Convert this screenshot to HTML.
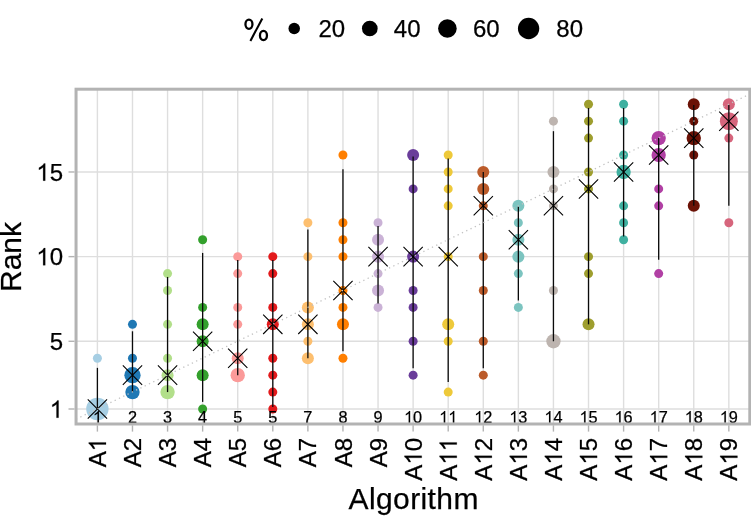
<!DOCTYPE html>
<html><head><meta charset="utf-8"><title>Blob plot</title>
<style>
html,body{margin:0;padding:0;background:#fff;}
body{width:751px;height:516px;overflow:hidden;}
svg{display:block;will-change:transform;}
text{font-family:"Liberation Sans",sans-serif;fill:#000;stroke:#000;stroke-width:0.25px;}
#one{stroke:#000;stroke-width:17;}
</style></head><body>
<svg width="751" height="516" viewBox="0 0 751 516">
<defs><path id="one" d="M763 0H583V1147Q518 1085 412.5 1023T223 930V1104Q374 1175 487 1276T647 1472H763Z"/></defs>
<rect x="0" y="0" width="751" height="516" fill="#fff"/>
<g stroke="#dedede" stroke-width="1.4" fill="none">
<line x1="76.05" x2="749.8" y1="409.00" y2="409.00"/>
<line x1="76.05" x2="749.8" y1="341.28" y2="341.28"/>
<line x1="76.05" x2="749.8" y1="256.63" y2="256.63"/>
<line x1="76.05" x2="749.8" y1="171.98" y2="171.98"/>
<line x1="97.40" x2="97.40" y1="89.2" y2="424.0"/>
<line x1="132.48" x2="132.48" y1="89.2" y2="424.0"/>
<line x1="167.56" x2="167.56" y1="89.2" y2="424.0"/>
<line x1="202.64" x2="202.64" y1="89.2" y2="424.0"/>
<line x1="237.72" x2="237.72" y1="89.2" y2="424.0"/>
<line x1="272.80" x2="272.80" y1="89.2" y2="424.0"/>
<line x1="307.88" x2="307.88" y1="89.2" y2="424.0"/>
<line x1="342.96" x2="342.96" y1="89.2" y2="424.0"/>
<line x1="378.04" x2="378.04" y1="89.2" y2="424.0"/>
<line x1="413.12" x2="413.12" y1="89.2" y2="424.0"/>
<line x1="448.20" x2="448.20" y1="89.2" y2="424.0"/>
<line x1="483.28" x2="483.28" y1="89.2" y2="424.0"/>
<line x1="518.36" x2="518.36" y1="89.2" y2="424.0"/>
<line x1="553.44" x2="553.44" y1="89.2" y2="424.0"/>
<line x1="588.52" x2="588.52" y1="89.2" y2="424.0"/>
<line x1="623.60" x2="623.60" y1="89.2" y2="424.0"/>
<line x1="658.68" x2="658.68" y1="89.2" y2="424.0"/>
<line x1="693.76" x2="693.76" y1="89.2" y2="424.0"/>
<line x1="728.84" x2="728.84" y1="89.2" y2="424.0"/>
</g>
<g fill-opacity="1">
<circle cx="97.40" cy="358.21" r="4.50" fill="#A6CEE3"/>
<circle cx="97.40" cy="409.00" r="11.17" fill="#A6CEE3"/>
<circle cx="132.48" cy="324.35" r="4.50" fill="#1F78B4"/>
<circle cx="132.48" cy="358.21" r="4.50" fill="#1F78B4"/>
<circle cx="132.48" cy="375.14" r="8.15" fill="#1F78B4"/>
<circle cx="132.48" cy="392.07" r="7.17" fill="#1F78B4"/>
<circle cx="167.56" cy="273.56" r="4.50" fill="#B2DF8A"/>
<circle cx="167.56" cy="290.49" r="4.50" fill="#B2DF8A"/>
<circle cx="167.56" cy="324.35" r="4.50" fill="#B2DF8A"/>
<circle cx="167.56" cy="358.21" r="4.50" fill="#B2DF8A"/>
<circle cx="167.56" cy="375.14" r="6.01" fill="#B2DF8A"/>
<circle cx="167.56" cy="392.07" r="7.17" fill="#B2DF8A"/>
<circle cx="202.64" cy="239.70" r="4.50" fill="#33A02C"/>
<circle cx="202.64" cy="307.42" r="4.50" fill="#33A02C"/>
<circle cx="202.64" cy="324.35" r="6.01" fill="#33A02C"/>
<circle cx="202.64" cy="341.28" r="6.01" fill="#33A02C"/>
<circle cx="202.64" cy="375.14" r="6.01" fill="#33A02C"/>
<circle cx="202.64" cy="409.00" r="4.50" fill="#33A02C"/>
<circle cx="237.72" cy="256.63" r="4.50" fill="#FB9A99"/>
<circle cx="237.72" cy="273.56" r="4.50" fill="#FB9A99"/>
<circle cx="237.72" cy="307.42" r="4.50" fill="#FB9A99"/>
<circle cx="237.72" cy="324.35" r="4.50" fill="#FB9A99"/>
<circle cx="237.72" cy="358.21" r="6.01" fill="#FB9A99"/>
<circle cx="237.72" cy="375.14" r="7.17" fill="#FB9A99"/>
<circle cx="272.80" cy="256.63" r="4.50" fill="#E31A1C"/>
<circle cx="272.80" cy="273.56" r="4.50" fill="#E31A1C"/>
<circle cx="272.80" cy="307.42" r="4.50" fill="#E31A1C"/>
<circle cx="272.80" cy="324.35" r="6.01" fill="#E31A1C"/>
<circle cx="272.80" cy="358.21" r="4.50" fill="#E31A1C"/>
<circle cx="272.80" cy="375.14" r="4.50" fill="#E31A1C"/>
<circle cx="272.80" cy="392.07" r="4.50" fill="#E31A1C"/>
<circle cx="272.80" cy="409.00" r="4.50" fill="#E31A1C"/>
<circle cx="307.88" cy="222.77" r="4.50" fill="#FDBF6F"/>
<circle cx="307.88" cy="256.63" r="4.50" fill="#FDBF6F"/>
<circle cx="307.88" cy="307.42" r="6.01" fill="#FDBF6F"/>
<circle cx="307.88" cy="324.35" r="6.01" fill="#FDBF6F"/>
<circle cx="307.88" cy="341.28" r="4.50" fill="#FDBF6F"/>
<circle cx="307.88" cy="358.21" r="6.01" fill="#FDBF6F"/>
<circle cx="342.96" cy="155.05" r="4.50" fill="#FF7F00"/>
<circle cx="342.96" cy="222.77" r="4.50" fill="#FF7F00"/>
<circle cx="342.96" cy="239.70" r="4.50" fill="#FF7F00"/>
<circle cx="342.96" cy="256.63" r="4.50" fill="#FF7F00"/>
<circle cx="342.96" cy="290.49" r="4.50" fill="#FF7F00"/>
<circle cx="342.96" cy="307.42" r="4.50" fill="#FF7F00"/>
<circle cx="342.96" cy="324.35" r="6.01" fill="#FF7F00"/>
<circle cx="342.96" cy="358.21" r="4.50" fill="#FF7F00"/>
<circle cx="378.04" cy="222.77" r="4.50" fill="#CAB2D6"/>
<circle cx="378.04" cy="239.70" r="6.01" fill="#CAB2D6"/>
<circle cx="378.04" cy="256.63" r="6.01" fill="#CAB2D6"/>
<circle cx="378.04" cy="273.56" r="4.50" fill="#CAB2D6"/>
<circle cx="378.04" cy="290.49" r="6.01" fill="#CAB2D6"/>
<circle cx="378.04" cy="307.42" r="4.50" fill="#CAB2D6"/>
<circle cx="413.12" cy="155.05" r="6.01" fill="#6A3D9A"/>
<circle cx="413.12" cy="188.91" r="4.50" fill="#6A3D9A"/>
<circle cx="413.12" cy="256.63" r="6.01" fill="#6A3D9A"/>
<circle cx="413.12" cy="290.49" r="4.50" fill="#6A3D9A"/>
<circle cx="413.12" cy="307.42" r="4.50" fill="#6A3D9A"/>
<circle cx="413.12" cy="341.28" r="4.50" fill="#6A3D9A"/>
<circle cx="413.12" cy="375.14" r="4.50" fill="#6A3D9A"/>
<circle cx="448.20" cy="155.05" r="4.50" fill="#EEC93A"/>
<circle cx="448.20" cy="171.98" r="4.50" fill="#EEC93A"/>
<circle cx="448.20" cy="188.91" r="4.50" fill="#EEC93A"/>
<circle cx="448.20" cy="205.84" r="4.50" fill="#EEC93A"/>
<circle cx="448.20" cy="256.63" r="4.50" fill="#EEC93A"/>
<circle cx="448.20" cy="324.35" r="6.01" fill="#EEC93A"/>
<circle cx="448.20" cy="341.28" r="4.50" fill="#EEC93A"/>
<circle cx="448.20" cy="392.07" r="4.50" fill="#EEC93A"/>
<circle cx="483.28" cy="171.98" r="6.01" fill="#BB5B2A"/>
<circle cx="483.28" cy="188.91" r="6.01" fill="#BB5B2A"/>
<circle cx="483.28" cy="205.84" r="4.50" fill="#BB5B2A"/>
<circle cx="483.28" cy="256.63" r="4.50" fill="#BB5B2A"/>
<circle cx="483.28" cy="290.49" r="4.50" fill="#BB5B2A"/>
<circle cx="483.28" cy="341.28" r="4.50" fill="#BB5B2A"/>
<circle cx="483.28" cy="375.14" r="4.50" fill="#BB5B2A"/>
<circle cx="518.36" cy="205.84" r="6.01" fill="#7CC4C0"/>
<circle cx="518.36" cy="222.77" r="4.50" fill="#7CC4C0"/>
<circle cx="518.36" cy="239.70" r="6.01" fill="#7CC4C0"/>
<circle cx="518.36" cy="256.63" r="6.01" fill="#7CC4C0"/>
<circle cx="518.36" cy="273.56" r="4.50" fill="#7CC4C0"/>
<circle cx="518.36" cy="307.42" r="4.50" fill="#7CC4C0"/>
<circle cx="553.44" cy="121.19" r="4.50" fill="#BDB4AF"/>
<circle cx="553.44" cy="171.98" r="6.01" fill="#BDB4AF"/>
<circle cx="553.44" cy="188.91" r="4.50" fill="#BDB4AF"/>
<circle cx="553.44" cy="205.84" r="4.50" fill="#BDB4AF"/>
<circle cx="553.44" cy="290.49" r="4.50" fill="#BDB4AF"/>
<circle cx="553.44" cy="341.28" r="7.17" fill="#BDB4AF"/>
<circle cx="588.52" cy="104.26" r="4.50" fill="#9E9E2E"/>
<circle cx="588.52" cy="121.19" r="4.50" fill="#9E9E2E"/>
<circle cx="588.52" cy="138.12" r="4.50" fill="#9E9E2E"/>
<circle cx="588.52" cy="171.98" r="4.50" fill="#9E9E2E"/>
<circle cx="588.52" cy="188.91" r="4.50" fill="#9E9E2E"/>
<circle cx="588.52" cy="256.63" r="4.50" fill="#9E9E2E"/>
<circle cx="588.52" cy="273.56" r="4.50" fill="#9E9E2E"/>
<circle cx="588.52" cy="324.35" r="6.01" fill="#9E9E2E"/>
<circle cx="623.60" cy="104.26" r="4.50" fill="#3FB0A0"/>
<circle cx="623.60" cy="121.19" r="4.50" fill="#3FB0A0"/>
<circle cx="623.60" cy="155.05" r="4.50" fill="#3FB0A0"/>
<circle cx="623.60" cy="171.98" r="7.17" fill="#3FB0A0"/>
<circle cx="623.60" cy="205.84" r="4.50" fill="#3FB0A0"/>
<circle cx="623.60" cy="222.77" r="4.50" fill="#3FB0A0"/>
<circle cx="623.60" cy="239.70" r="4.50" fill="#3FB0A0"/>
<circle cx="658.68" cy="138.12" r="7.17" fill="#B140A4"/>
<circle cx="658.68" cy="155.05" r="7.17" fill="#B140A4"/>
<circle cx="658.68" cy="188.91" r="4.50" fill="#B140A4"/>
<circle cx="658.68" cy="205.84" r="4.50" fill="#B140A4"/>
<circle cx="658.68" cy="273.56" r="4.50" fill="#B140A4"/>
<circle cx="693.76" cy="104.26" r="6.01" fill="#6B1206"/>
<circle cx="693.76" cy="121.19" r="4.50" fill="#6B1206"/>
<circle cx="693.76" cy="138.12" r="7.17" fill="#6B1206"/>
<circle cx="693.76" cy="155.05" r="4.50" fill="#6B1206"/>
<circle cx="693.76" cy="205.84" r="6.01" fill="#6B1206"/>
<circle cx="728.84" cy="104.26" r="6.01" fill="#D6657C"/>
<circle cx="728.84" cy="121.19" r="9.01" fill="#D6657C"/>
<circle cx="728.84" cy="138.12" r="4.50" fill="#D6657C"/>
<circle cx="728.84" cy="222.77" r="4.50" fill="#D6657C"/>
</g>
<g stroke="#0a0a0a" stroke-width="1.3">
<line x1="97.40" x2="97.40" y1="367.86" y2="409.00"/>
<line x1="132.48" x2="132.48" y1="331.29" y2="392.07"/>
<line x1="167.56" x2="167.56" y1="276.95" y2="392.07"/>
<line x1="202.64" x2="202.64" y1="252.91" y2="401.89"/>
<line x1="237.72" x2="237.72" y1="260.02" y2="375.14"/>
<line x1="272.80" x2="272.80" y1="260.02" y2="406.97"/>
<line x1="307.88" x2="307.88" y1="229.54" y2="358.21"/>
<line x1="342.96" x2="342.96" y1="169.27" y2="351.27"/>
<line x1="378.04" x2="378.04" y1="225.99" y2="303.53"/>
<line x1="413.12" x2="413.12" y1="156.40" y2="368.20"/>
<line x1="448.20" x2="448.20" y1="158.44" y2="381.91"/>
<line x1="483.28" x2="483.28" y1="171.98" y2="368.20"/>
<line x1="518.36" x2="518.36" y1="206.69" y2="300.48"/>
<line x1="553.44" x2="553.44" y1="131.18" y2="341.28"/>
<line x1="588.52" x2="588.52" y1="107.98" y2="324.35"/>
<line x1="623.60" x2="623.60" y1="107.98" y2="236.48"/>
<line x1="658.68" x2="658.68" y1="138.12" y2="259.85"/>
<line x1="693.76" x2="693.76" y1="104.94" y2="205.84"/>
<line x1="728.84" x2="728.84" y1="104.94" y2="205.84"/>
</g>
<g stroke="#000" stroke-width="1.08" fill="none">
<path d="M87.75 399.35L107.05 418.65M87.75 418.65L107.05 399.35"/>
<path d="M122.83 365.49L142.13 384.79M122.83 384.79L142.13 365.49"/>
<path d="M157.91 365.49L177.21 384.79M157.91 384.79L177.21 365.49"/>
<path d="M192.99 331.63L212.29 350.93M192.99 350.93L212.29 331.63"/>
<path d="M228.07 348.56L247.37 367.86M228.07 367.86L247.37 348.56"/>
<path d="M263.15 314.70L282.45 334.00M263.15 334.00L282.45 314.70"/>
<path d="M298.23 314.70L317.53 334.00M298.23 334.00L317.53 314.70"/>
<path d="M333.31 280.84L352.61 300.14M333.31 300.14L352.61 280.84"/>
<path d="M368.39 246.98L387.69 266.28M368.39 266.28L387.69 246.98"/>
<path d="M403.47 246.98L422.77 266.28M403.47 266.28L422.77 246.98"/>
<path d="M438.55 246.98L457.85 266.28M438.55 266.28L457.85 246.98"/>
<path d="M473.63 196.19L492.93 215.49M473.63 215.49L492.93 196.19"/>
<path d="M508.71 230.05L528.01 249.35M508.71 249.35L528.01 230.05"/>
<path d="M543.79 196.19L563.09 215.49M543.79 215.49L563.09 196.19"/>
<path d="M578.87 179.26L598.17 198.56M578.87 198.56L598.17 179.26"/>
<path d="M613.95 162.33L633.25 181.63M613.95 181.63L633.25 162.33"/>
<path d="M649.03 145.40L668.33 164.70M649.03 164.70L668.33 145.40"/>
<path d="M684.11 128.47L703.41 147.77M684.11 147.77L703.41 128.47"/>
<path d="M719.19 111.54L738.49 130.84M719.19 130.84L738.49 111.54"/>
</g>
<line x1="76.05" y1="419.16" x2="749.8" y2="94.10" stroke="#c2c2c2" stroke-width="1.3" stroke-dasharray="1.3 3.46"/>
<g transform="translate(97.40 422.70)" font-size="16.3"><use href="#one" transform="translate(-4.53 0) scale(0.00796 -0.00796)"/></g>
<g transform="translate(132.48 422.70)" font-size="16.3"><text x="-4.53" y="0">2</text></g>
<g transform="translate(167.56 422.70)" font-size="16.3"><text x="-4.53" y="0">3</text></g>
<g transform="translate(202.64 422.70)" font-size="16.3"><text x="-4.53" y="0">4</text></g>
<g transform="translate(237.72 422.70)" font-size="16.3"><text x="-4.53" y="0">5</text></g>
<g transform="translate(272.80 422.70)" font-size="16.3"><text x="-4.53" y="0">5</text></g>
<g transform="translate(307.88 422.70)" font-size="16.3"><text x="-4.53" y="0">7</text></g>
<g transform="translate(342.96 422.70)" font-size="16.3"><text x="-4.53" y="0">8</text></g>
<g transform="translate(378.04 422.70)" font-size="16.3"><text x="-4.53" y="0">9</text></g>
<g transform="translate(413.12 422.70)" font-size="16.3"><use href="#one" transform="translate(-9.07 0) scale(0.00796 -0.00796)"/><text x="0.00" y="0">0</text></g>
<g transform="translate(448.20 422.70)" font-size="16.3"><use href="#one" transform="translate(-9.07 0) scale(0.00796 -0.00796)"/><use href="#one" transform="translate(0.00 0) scale(0.00796 -0.00796)"/></g>
<g transform="translate(483.28 422.70)" font-size="16.3"><use href="#one" transform="translate(-9.07 0) scale(0.00796 -0.00796)"/><text x="0.00" y="0">2</text></g>
<g transform="translate(518.36 422.70)" font-size="16.3"><use href="#one" transform="translate(-9.07 0) scale(0.00796 -0.00796)"/><text x="0.00" y="0">3</text></g>
<g transform="translate(553.44 422.70)" font-size="16.3"><use href="#one" transform="translate(-9.07 0) scale(0.00796 -0.00796)"/><text x="0.00" y="0">4</text></g>
<g transform="translate(588.52 422.70)" font-size="16.3"><use href="#one" transform="translate(-9.07 0) scale(0.00796 -0.00796)"/><text x="0.00" y="0">5</text></g>
<g transform="translate(623.60 422.70)" font-size="16.3"><use href="#one" transform="translate(-9.07 0) scale(0.00796 -0.00796)"/><text x="0.00" y="0">6</text></g>
<g transform="translate(658.68 422.70)" font-size="16.3"><use href="#one" transform="translate(-9.07 0) scale(0.00796 -0.00796)"/><text x="0.00" y="0">7</text></g>
<g transform="translate(693.76 422.70)" font-size="16.3"><use href="#one" transform="translate(-9.07 0) scale(0.00796 -0.00796)"/><text x="0.00" y="0">8</text></g>
<g transform="translate(728.84 422.70)" font-size="16.3"><use href="#one" transform="translate(-9.07 0) scale(0.00796 -0.00796)"/><text x="0.00" y="0">9</text></g>
<rect x="76.05" y="89.2" width="673.75" height="334.8" fill="none" stroke="#b3b3b3" stroke-width="3"/>
<g stroke="#b3b3b3" stroke-width="1.4">
<line x1="68.5" x2="74.55" y1="409.00" y2="409.00"/>
<line x1="68.5" x2="74.55" y1="341.28" y2="341.28"/>
<line x1="68.5" x2="74.55" y1="256.63" y2="256.63"/>
<line x1="68.5" x2="74.55" y1="171.98" y2="171.98"/>
<line x1="97.40" x2="97.40" y1="425.3" y2="431.6"/>
<line x1="132.48" x2="132.48" y1="425.3" y2="431.6"/>
<line x1="167.56" x2="167.56" y1="425.3" y2="431.6"/>
<line x1="202.64" x2="202.64" y1="425.3" y2="431.6"/>
<line x1="237.72" x2="237.72" y1="425.3" y2="431.6"/>
<line x1="272.80" x2="272.80" y1="425.3" y2="431.6"/>
<line x1="307.88" x2="307.88" y1="425.3" y2="431.6"/>
<line x1="342.96" x2="342.96" y1="425.3" y2="431.6"/>
<line x1="378.04" x2="378.04" y1="425.3" y2="431.6"/>
<line x1="413.12" x2="413.12" y1="425.3" y2="431.6"/>
<line x1="448.20" x2="448.20" y1="425.3" y2="431.6"/>
<line x1="483.28" x2="483.28" y1="425.3" y2="431.6"/>
<line x1="518.36" x2="518.36" y1="425.3" y2="431.6"/>
<line x1="553.44" x2="553.44" y1="425.3" y2="431.6"/>
<line x1="588.52" x2="588.52" y1="425.3" y2="431.6"/>
<line x1="623.60" x2="623.60" y1="425.3" y2="431.6"/>
<line x1="658.68" x2="658.68" y1="425.3" y2="431.6"/>
<line x1="693.76" x2="693.76" y1="425.3" y2="431.6"/>
<line x1="728.84" x2="728.84" y1="425.3" y2="431.6"/>
</g>
<g transform="translate(63.00 417.70)" font-size="24"><use href="#one" transform="translate(-13.35 0) scale(0.01172 -0.01172)"/></g>
<g transform="translate(63.00 349.98)" font-size="24"><text x="-13.35" y="0">5</text></g>
<g transform="translate(63.00 265.33)" font-size="24"><use href="#one" transform="translate(-26.70 0) scale(0.01172 -0.01172)"/><text x="-13.35" y="0">0</text></g>
<g transform="translate(63.00 180.68)" font-size="24"><use href="#one" transform="translate(-26.70 0) scale(0.01172 -0.01172)"/><text x="-13.35" y="0">5</text></g>
<g transform="translate(106.00 438.00) rotate(-90)" font-size="24"><text x="-29.36" y="0">A</text><use href="#one" transform="translate(-13.35 0) scale(0.01172 -0.01172)"/></g>
<g transform="translate(141.08 438.00) rotate(-90)" font-size="24"><text x="-29.36" y="0">A2</text></g>
<g transform="translate(176.16 438.00) rotate(-90)" font-size="24"><text x="-29.36" y="0">A3</text></g>
<g transform="translate(211.24 438.00) rotate(-90)" font-size="24"><text x="-29.36" y="0">A4</text></g>
<g transform="translate(246.32 438.00) rotate(-90)" font-size="24"><text x="-29.36" y="0">A5</text></g>
<g transform="translate(281.40 438.00) rotate(-90)" font-size="24"><text x="-29.36" y="0">A6</text></g>
<g transform="translate(316.48 438.00) rotate(-90)" font-size="24"><text x="-29.36" y="0">A7</text></g>
<g transform="translate(351.56 438.00) rotate(-90)" font-size="24"><text x="-29.36" y="0">A8</text></g>
<g transform="translate(386.64 438.00) rotate(-90)" font-size="24"><text x="-29.36" y="0">A9</text></g>
<g transform="translate(421.72 438.00) rotate(-90)" font-size="24"><text x="-42.70" y="0">A</text><use href="#one" transform="translate(-26.70 0) scale(0.01172 -0.01172)"/><text x="-13.35" y="0">0</text></g>
<g transform="translate(456.80 438.00) rotate(-90)" font-size="24"><text x="-42.70" y="0">A</text><use href="#one" transform="translate(-26.70 0) scale(0.01172 -0.01172)"/><use href="#one" transform="translate(-13.35 0) scale(0.01172 -0.01172)"/></g>
<g transform="translate(491.88 438.00) rotate(-90)" font-size="24"><text x="-42.70" y="0">A</text><use href="#one" transform="translate(-26.70 0) scale(0.01172 -0.01172)"/><text x="-13.35" y="0">2</text></g>
<g transform="translate(526.96 438.00) rotate(-90)" font-size="24"><text x="-42.70" y="0">A</text><use href="#one" transform="translate(-26.70 0) scale(0.01172 -0.01172)"/><text x="-13.35" y="0">3</text></g>
<g transform="translate(562.04 438.00) rotate(-90)" font-size="24"><text x="-42.70" y="0">A</text><use href="#one" transform="translate(-26.70 0) scale(0.01172 -0.01172)"/><text x="-13.35" y="0">4</text></g>
<g transform="translate(597.12 438.00) rotate(-90)" font-size="24"><text x="-42.70" y="0">A</text><use href="#one" transform="translate(-26.70 0) scale(0.01172 -0.01172)"/><text x="-13.35" y="0">5</text></g>
<g transform="translate(632.20 438.00) rotate(-90)" font-size="24"><text x="-42.70" y="0">A</text><use href="#one" transform="translate(-26.70 0) scale(0.01172 -0.01172)"/><text x="-13.35" y="0">6</text></g>
<g transform="translate(667.28 438.00) rotate(-90)" font-size="24"><text x="-42.70" y="0">A</text><use href="#one" transform="translate(-26.70 0) scale(0.01172 -0.01172)"/><text x="-13.35" y="0">7</text></g>
<g transform="translate(702.36 438.00) rotate(-90)" font-size="24"><text x="-42.70" y="0">A</text><use href="#one" transform="translate(-26.70 0) scale(0.01172 -0.01172)"/><text x="-13.35" y="0">8</text></g>
<g transform="translate(737.44 438.00) rotate(-90)" font-size="24"><text x="-42.70" y="0">A</text><use href="#one" transform="translate(-26.70 0) scale(0.01172 -0.01172)"/><text x="-13.35" y="0">9</text></g>
<text font-size="30" text-anchor="middle" letter-spacing="0.39" x="413.7" y="509">Algorithm</text>
<text font-size="30" text-anchor="middle" transform="translate(21.4 257) rotate(-90)">Rank</text>
<g fill="none" stroke="#000"><ellipse cx="248.95" cy="24.3" rx="3.5" ry="4.6" stroke-width="2.3"/><ellipse cx="263.45" cy="35.5" rx="3.5" ry="4.6" stroke-width="2.3"/><line x1="250.4" y1="40.9" x2="262.3" y2="18.5" stroke-width="2.1"/></g>
<circle cx="294.2" cy="28.5" r="5.75" fill="#000"/>
<circle cx="369.8" cy="28.5" r="7.85" fill="#000"/>
<circle cx="447.4" cy="28.5" r="9.30" fill="#000"/>
<circle cx="528.6" cy="28.5" r="10.65" fill="#000"/>
<g font-size="24">
<text x="318.5" y="37">20</text>
<text x="393.8" y="37">40</text>
<text x="473" y="37">60</text>
<text x="556.3" y="37">80</text>
</g>
</svg>
</body></html>
